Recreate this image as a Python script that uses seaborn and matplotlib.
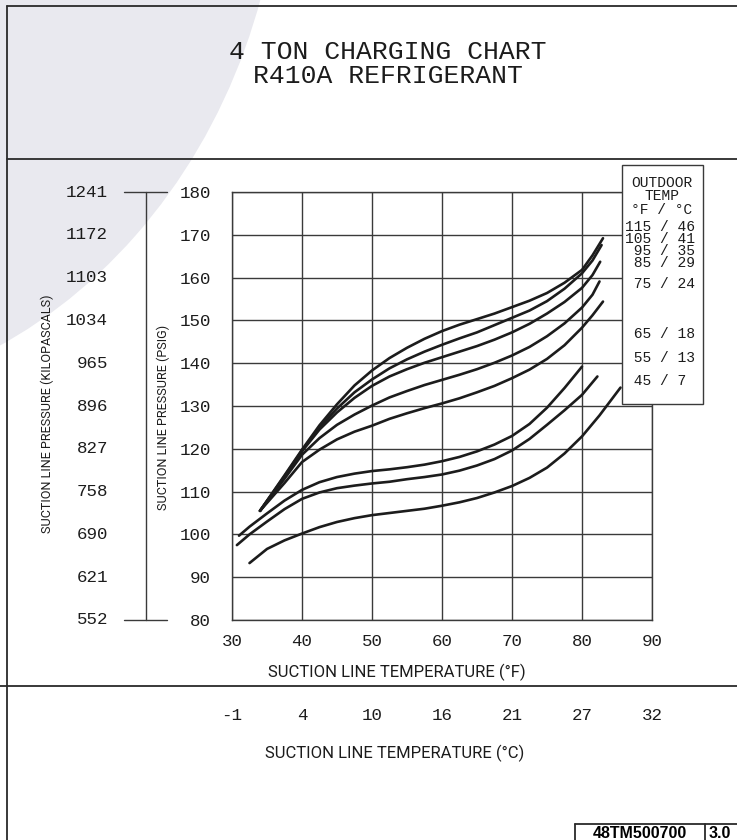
import matplotlib
matplotlib.use("Agg")
import matplotlib.pyplot as plt
import matplotlib.transforms as mtransforms
from matplotlib import font_manager
from matplotlib.lines import Line2D
from matplotlib.patches import Circle, Rectangle
import pandas as pd
import seaborn as sns

t_115 = [34, 37.5, 40, 42.5, 45, 47.5, 50, 52.5, 55, 57.5, 60, 62.5, 65, 67.5, 70, 72.5, 75, 77.5, 80, 81.5, 83]
p_115 = [105.5, 113.8, 119.8, 125.5, 130.4, 134.8, 138.3, 141.2, 143.6, 145.7, 147.5, 149.0, 150.3, 151.6, 153.1, 154.6, 156.4, 158.8, 161.8, 165.2, 169.2]

t_105 = [34, 37.5, 40, 42.5, 45, 47.5, 50, 52.5, 55, 57.5, 60, 62.5, 65, 67.5, 70, 72.5, 75, 77.5, 80, 81.5, 82.8]
p_105 = [105.5, 113.6, 119.6, 125.0, 129.4, 133.2, 136.2, 138.8, 140.9, 142.7, 144.3, 145.8, 147.2, 148.9, 150.6, 152.3, 154.5, 157.4, 161.0, 164.0, 167.6]

t_95 = [34, 37.5, 40, 42.5, 45, 47.5, 50, 52.5, 55, 57.5, 60, 62.5, 65, 67.5, 70, 72.5, 75, 77.5, 80, 81.5, 82.6]
p_95 = [105.5, 113.4, 119.4, 124.5, 128.5, 131.9, 134.7, 136.9, 138.6, 140.1, 141.4, 142.7, 144.0, 145.5, 147.2, 149.2, 151.6, 154.3, 157.6, 160.6, 163.7]

t_85 = [34, 37.5, 40, 42.5, 45, 47.5, 50, 52.5, 55, 57.5, 60, 62.5, 65, 67.5, 70, 72.5, 75, 77.5, 80, 81.5, 82.5]
p_85 = [105.5, 113.0, 118.6, 122.5, 125.6, 128.0, 130.1, 132.0, 133.5, 134.9, 136.1, 137.3, 138.6, 140.1, 141.8, 143.8, 146.3, 149.3, 153.0, 156.0, 159.1]

t_75 = [34, 37.5, 40, 42.5, 45, 47.5, 50, 52.5, 55, 57.5, 60, 62.5, 65, 67.5, 70, 72.5, 75, 77.5, 80, 81.5, 83]
p_75 = [105.5, 112.0, 116.9, 119.8, 122.2, 124.0, 125.4, 127.0, 128.3, 129.5, 130.6, 131.8, 133.2, 134.7, 136.5, 138.5, 141.0, 144.2, 148.3, 151.2, 154.4]

t_65 = [31, 32.5, 35, 37.5, 40, 42.5, 45, 47.5, 50, 52.5, 55, 57.5, 60, 62.5, 65, 67.5, 70, 72.5, 75, 77.5, 80]
p_65 = [99.7, 101.8, 104.9, 107.9, 110.4, 112.2, 113.4, 114.2, 114.8, 115.2, 115.7, 116.3, 117.1, 118.1, 119.4, 121.0, 123.0, 125.8, 129.6, 134.2, 139.2]

t_55 = [30.7, 32.5, 35, 37.5, 40, 42.5, 45, 47.5, 50, 52.5, 55, 57.5, 60, 62.5, 65, 67.5, 70, 72.5, 75, 77.5, 80, 82.2]
p_55 = [97.5, 100.0, 103.0, 105.9, 108.3, 109.8, 110.8, 111.4, 111.9, 112.3, 112.9, 113.4, 114.0, 114.9, 116.1, 117.6, 119.6, 122.3, 125.6, 129.0, 132.6, 136.9]

t_45 = [32.5, 35, 37.5, 40, 42.5, 45, 47.5, 50, 52.5, 55, 57.5, 60, 62.5, 65, 67.5, 70, 72.5, 75, 77.5, 80, 82.5, 85.5]
p_45 = [93.3, 96.6, 98.6, 100.2, 101.7, 102.9, 103.8, 104.5, 105.0, 105.5, 106.0, 106.7, 107.5, 108.5, 109.8, 111.3, 113.2, 115.6, 118.9, 122.9, 127.8, 134.3]

outdoor_f = [115, 105, 95, 85, 75, 65, 55, 45]
outdoor_c = [46, 41, 35, 29, 24, 18, 13, 7]

psig_ticks = [80, 90, 100, 110, 120, 130, 140, 150, 160, 170, 180]
kpa_labels = ["552", "621", "690", "758", "827", "896", "965", "1034", "1103", "1172", "1241"]
temp_f_ticks = [30, 40, 50, 60, 70, 80, 90]
temp_c_labels = ["-1", "4", "10", "16", "21", "27", "32"]

W, H = 737, 840
INK = "#1c1c1c"
GRID = "#3a3a3a"

sns.set_style("white")
avail = {f.name for f in font_manager.fontManager.ttflist}
mono = "Liberation Mono" if "Liberation Mono" in avail else "DejaVu Sans Mono"
narrow = "Roboto" if "Roboto" in avail else "DejaVu Sans"
plt.rcParams["font.family"] = [mono, "DejaVu Sans"]


def fx(x):
    return x / W


def fy(y):
    return 1 - y / H


curvas = [(t_115, p_115), (t_105, p_105), (t_95, p_95), (t_85, p_85),
          (t_75, p_75), (t_65, p_65), (t_55, p_55), (t_45, p_45)]
filas = []
for f, (ts, ps) in zip(outdoor_f, curvas):
    for t, p in zip(ts, ps):
        filas.append({"outdoor": f, "temp": t, "psig": p})
df = pd.DataFrame(filas)

fig = plt.figure(figsize=(W / 100, H / 100), dpi=100)
fig.patch.set_facecolor("white")

# marca de agua (círculo gris claro)
fig.add_artist(Circle((fx(-220), fy(-170)), 503 / W, transform=fig.transFigure,
                      facecolor="#e9e9ef", edgecolor="none", zorder=-5))

ax = fig.add_axes([fx(232), fy(620), 420 / W, 428 / H])
ax.set_facecolor("white")
sns.lineplot(data=df, x="temp", y="psig", units="outdoor", estimator=None, sort=False,
             color=INK, lw=1.9, ax=ax, zorder=3)

ax.set_xlim(30, 90)
ax.set_ylim(80, 180)
ax.set_xticks(temp_f_ticks)
ax.set_yticks(psig_ticks)
ax.set_xticklabels([str(t) for t in temp_f_ticks], fontsize=12.6, fontfamily=mono)
ax.set_yticklabels([str(p) for p in psig_ticks], fontsize=12.6, fontfamily=mono)
ax.tick_params(axis="y", length=3, width=1, color=GRID, pad=12, labelcolor=INK)
ax.tick_params(axis="x", length=3, width=1, color=GRID, pad=7, labelcolor=INK)
ax.grid(True, color=GRID, lw=1.0)
ax.set_axisbelow(True)
for s in ax.spines.values():
    s.set_color(GRID)
    s.set_linewidth(1.0)
ax.set_xlabel("")
ax.set_ylabel("")

# escala en kilopascales a la izquierda
ytr = ax.get_yaxis_transform()
for p, lab in zip(psig_ticks, kpa_labels):
    ax.text((108 - 232) / 420, p, lab, transform=ytr, ha="right", va="center",
            fontsize=12.6, fontfamily=mono, color=INK)
xs = (146 - 232) / 420
ax.add_line(Line2D([xs, xs], [80, 180], transform=ytr, color=GRID, lw=1.0, clip_on=False))
for p in (80, 180):
    ax.add_line(Line2D([(124 - 232) / 420, (167 - 232) / 420], [p, p], transform=ytr,
                       color=GRID, lw=1.0, clip_on=False))

# temperaturas en °C bajo la línea separadora
btr = mtransforms.blended_transform_factory(ax.transData, fig.transFigure)
for t, lab in zip(temp_f_ticks, temp_c_labels):
    ax.text(t, fy(715), lab, transform=btr, ha="center", va="center",
            fontsize=12.6, fontfamily=mono, color=INK)

# títulos y rótulos
fig.text(fx(388), fy(52), "4 TON CHARGING CHART", ha="center", va="center",
         fontsize=19, fontfamily=mono, color=INK)
fig.text(fx(388), fy(76), "R410A REFRIGERANT", ha="center", va="center",
         fontsize=19, fontfamily=mono, color=INK)
fig.text(fx(397), fy(672), "SUCTION LINE TEMPERATURE (°F)", ha="center", va="center",
         fontsize=12.0, fontfamily=narrow, color=INK)
fig.text(fx(395), fy(753), "SUCTION LINE TEMPERATURE (°C)", ha="center", va="center",
         fontsize=12.0, fontfamily=narrow, color=INK)
fig.text(fx(47), fy(414), "SUCTION LINE PRESSURE (KILOPASCALS)", rotation=90,
         ha="center", va="center", fontsize=9.1, fontfamily=narrow, color=INK)
fig.text(fx(163), fy(417), "SUCTION LINE PRESSURE (PSIG)", rotation=90,
         ha="center", va="center", fontsize=9.1, fontfamily=narrow, color=INK)

# caja de leyenda (temperatura exterior)
fig.add_artist(Rectangle((fx(622), fy(404)), 81 / W, 239 / H, transform=fig.transFigure,
                         facecolor="white", edgecolor=GRID, lw=1.0, zorder=2))
fig.text(fx(662), fy(189.5), "OUTDOOR\nTEMP", ha="center", va="center", multialignment="center",
         fontsize=10.5, linespacing=0.83, fontfamily=mono, color=INK, zorder=3)
fig.text(fx(662), fy(210), "°F / °C", ha="center", va="center", fontsize=10.5,
         fontfamily=mono, color=INK, zorder=3)
filas_ley = [f"{f:>3} / {c}" for f, c in zip(outdoor_f, outdoor_c)]
# las cuatro primeras filas van apretadas, como en la carta original
fig.text(fx(625), fy(245), "\n".join(filas_ley[:4]), ha="left", va="center",
         fontsize=10.5, linespacing=0.79, fontfamily=mono, color=INK, zorder=3)
for y, txt in zip([284, 334, 358, 381], filas_ley[4:]):
    fig.text(fx(625), fy(y), txt, ha="left", va="center", fontsize=10.5,
             fontfamily=mono, color=INK, zorder=3)

# marco y separadores
marco = [((7, 7), (6, 840)), ((7, 737), (6, 6)), ((7, 737), (159, 159)),
         ((0, 737), (686, 686)), ((575, 737), (824, 824)), ((575, 575), (824, 840)),
         ((705, 705), (824, 840))]
for xx, yy in marco:
    fig.add_artist(Line2D([fx(x) for x in xx], [fy(y) for y in yy], transform=fig.transFigure,
                          color="#2a2a2a", lw=1.3, zorder=1))
fig.text(fx(640), fy(834), "48TM500700", ha="center", va="center", fontsize=11.5,
         fontweight="bold", fontfamily="Liberation Sans", color="black")
fig.text(fx(720), fy(834), "3.0", ha="center", va="center", fontsize=11.5,
         fontweight="bold", fontfamily="Liberation Sans", color="black")

fig.savefig("out.png", dpi=100)
